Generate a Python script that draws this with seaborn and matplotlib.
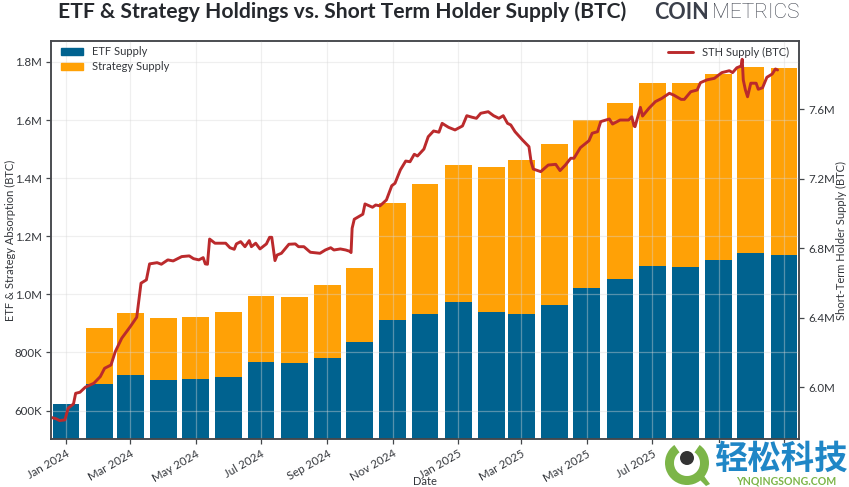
import matplotlib
matplotlib.use("Agg")
import matplotlib.pyplot as plt
import matplotlib.dates as mdates
from matplotlib.lines import Line2D
from matplotlib.patches import Patch, Rectangle, Wedge, Circle, Polygon
from matplotlib.ticker import FuncFormatter, MultipleLocator
from matplotlib.transforms import IdentityTransform
import numpy as np
import pandas as pd
import seaborn as sns

# Month-start holdings, BTC thousands
months = pd.date_range("2024-01-01", "2025-11-01", freq="MS")
etf_supply = [622, 692, 722, 706, 709, 715, 768, 764, 782, 837, 913, 933,
              973, 940, 933, 964, 1023, 1052, 1098, 1095, 1118, 1142, 1137]
strategy_supply = [0, 193, 212, 213, 214, 225, 226, 227, 251, 253, 403, 446,
                   473, 500, 528, 554, 578, 608, 629, 632, 642, 642, 642]

# Short-term holder supply: days since 2024-01-01, BTC millions
sth_days = [-13, -9, -6, -1, 2, 7, 9, 13, 18, 26, 32, 36, 42, 46, 52, 60, 66, 68, 70, 75,
            78, 85, 89, 95, 100, 108, 115, 119, 124, 128, 130, 132, 134, 139, 144, 149,
            153, 157, 159, 163, 167, 171, 173, 177, 181, 187, 190, 192, 195, 197, 201,
            208, 214, 217, 222, 228, 237, 242, 247, 250, 256, 261, 265, 266, 267, 269,
            277, 279, 286, 289, 293, 299, 304, 307, 312, 317, 321, 325, 328, 334, 338,
            343, 348, 351, 357, 363, 370, 374, 379, 383, 387, 394, 399, 404, 408, 412,
            415, 419, 426, 432, 434, 436, 443, 450, 457, 461, 466, 471, 474, 480, 488,
            491, 496, 499, 507, 510, 517, 525, 528, 530, 531, 536, 538, 544, 550, 556,
            563, 567, 574, 577, 583, 589, 592, 598, 605, 612, 619, 622, 626, 630, 631,
            632, 634, 636, 639, 644, 646, 650, 654, 659, 662, 664]
sth_supply = [5.825, 5.818, 5.808, 5.812, 5.879, 5.904, 5.965, 5.971, 6.000, 6.023, 6.061,
              6.109, 6.128, 6.205, 6.282, 6.349, 6.403, 6.502, 6.599, 6.618,
              6.710, 6.717, 6.708, 6.733, 6.727, 6.752, 6.756, 6.740, 6.733, 6.746, 6.710,
              6.708, 6.853, 6.829, 6.829, 6.829, 6.803, 6.794, 6.825, 6.838, 6.809, 6.844,
              6.809, 6.829, 6.796, 6.825, 6.863, 6.863, 6.729, 6.761, 6.771, 6.823, 6.825,
              6.809, 6.809, 6.777, 6.771, 6.790, 6.803, 6.790, 6.796, 6.790, 6.782, 6.775,
              6.915, 6.967, 6.996, 7.055, 7.036, 7.049, 7.044, 7.078, 7.160, 7.174, 7.251,
              7.302, 7.298, 7.341, 7.331, 7.371, 7.442, 7.475, 7.468, 7.519, 7.496, 7.481,
              7.504, 7.563, 7.554, 7.548, 7.577, 7.586, 7.563, 7.548, 7.563, 7.519, 7.510,
              7.471, 7.423, 7.385, 7.298, 7.256, 7.241, 7.279, 7.283, 7.247, 7.279, 7.318,
              7.318, 7.379, 7.419, 7.462, 7.471, 7.529, 7.544, 7.515, 7.538, 7.538, 7.557,
              7.504, 7.500, 7.611, 7.561, 7.606, 7.644, 7.663, 7.692, 7.682, 7.657, 7.657,
              7.701, 7.711, 7.753, 7.769, 7.778, 7.811, 7.822, 7.811, 7.839, 7.849, 7.888,
              7.769, 7.711, 7.672, 7.750, 7.750, 7.715, 7.724, 7.784, 7.803, 7.832, 7.826]

title = "ETF & Strategy Holdings vs. Short Term Holder Supply (BTC)"
ETF_COLOR = "#00628f"
STRATEGY_COLOR = "#ffa106"
STH_COLOR = "#bb2a2c"
TEXT_COLOR = "#33363b"
SPINE_COLOR = "#45484c"

sns.set_theme(style="white")
plt.rcParams["font.family"] = ["Lato", "DejaVu Sans"]

W, H = 849, 487
fig = plt.figure(figsize=(W / 100, H / 100), dpi=100)
ax = fig.add_axes([51 / W, 1 - 439 / H, (799 - 51) / W, (439 - 41) / H])

# Stacked bars: the total first, the ETF share painted over its lower part
x_num = mdates.date2num(months)
etf = np.array(etf_supply) * 1e3
total = etf + np.array(strategy_supply) * 1e3
sns.barplot(x=x_num, y=total, native_scale=True, width=0.893, color=STRATEGY_COLOR,
            saturation=1, linewidth=0, ax=ax)
sns.barplot(x=x_num, y=etf, native_scale=True, width=0.893, color=ETF_COLOR,
            saturation=1, linewidth=0, ax=ax)

ax.set_xlim(mdates.date2num(pd.Timestamp("2023-12-18")),
            mdates.date2num(pd.Timestamp("2025-11-15")))
ax.set_ylim(502e3, 1.872e6)
ax.yaxis.set_major_locator(MultipleLocator(200e3))
ax.yaxis.set_major_formatter(FuncFormatter(
    lambda v, _: f"{v / 1e6:.1f}M" if v >= 1e6 else f"{v / 1e3:.0f}K"))
ax.xaxis.set_major_locator(mdates.MonthLocator(bymonth=range(1, 13, 2)))
ax.xaxis.set_major_formatter(mdates.DateFormatter("%b %Y"))
ax.grid(True, color="#d8d8d8", alpha=0.4, linewidth=0.9)
ax.set_axisbelow(False)
ax.tick_params(axis="both", length=3.5, width=0.9, color=SPINE_COLOR, labelsize=8.3,
               labelcolor=TEXT_COLOR, pad=3, bottom=True, left=True)
plt.setp(ax.get_xticklabels(), rotation=30, ha="right", rotation_mode="anchor")
ax.set_xlabel("Date", fontsize=8, color=TEXT_COLOR, labelpad=0)
ax.xaxis.set_label_coords(0.5, -0.093)
ax.set_ylabel("ETF & Strategy Absorption (BTC)", fontsize=8, color=TEXT_COLOR)
ax.yaxis.set_label_coords(-0.047, 0.5)

# Short-term holder supply on its own scale
ax2 = ax.twinx()
sth_dates = mdates.date2num(pd.Timestamp("2024-01-01") + pd.to_timedelta(sth_days, unit="D"))
sns.lineplot(x=sth_dates, y=np.array(sth_supply) * 1e6, color=STH_COLOR, linewidth=2.1,
             ax=ax2, legend=False, errorbar=None, sort=False)
ax2.set_xlim(ax.get_xlim())
ax2.set_ylim(5.702e6, 7.993e6)
ax2.yaxis.set_major_locator(MultipleLocator(400e3))
ax2.yaxis.set_major_formatter(FuncFormatter(lambda v, _: f"{v / 1e6:.1f}M"))
ax2.tick_params(axis="y", length=3.5, width=0.9, color=SPINE_COLOR, labelsize=8.3,
                labelcolor=TEXT_COLOR, pad=3, right=True)
ax2.set_ylabel("Short-Term Holder Supply (BTC)", fontsize=8, color=TEXT_COLOR)
ax2.yaxis.set_label_coords(1.05, 0.5)
ax2.grid(False)

for a in (ax, ax2):
    for side, spine in a.spines.items():
        spine.set_color(SPINE_COLOR)
        spine.set_linewidth(1.1)

ax.legend(handles=[Patch(color=ETF_COLOR, label="ETF Supply"),
                   Patch(color=STRATEGY_COLOR, label="Strategy Supply")],
          loc="upper left", bbox_to_anchor=(0.001, 1.01), frameon=False, fontsize=8,
          labelcolor=TEXT_COLOR, borderaxespad=0.55, borderpad=0.3, handlelength=2.0,
          handleheight=0.7, handletextpad=0.75, labelspacing=0.36)
ax2.legend(handles=[Line2D([], [], color=STH_COLOR, linewidth=2.1, label="STH Supply (BTC)")],
           loc="upper right", bbox_to_anchor=(0.999, 1.01), frameon=False, fontsize=8,
           labelcolor=TEXT_COLOR, borderaxespad=0.55, borderpad=0.3, handlelength=2.2,
           handletextpad=0.8)

# Headline and wordmark
fig.text(58 / W, 1 - 11.5 / H, title, fontsize=15.2, fontweight="bold", color="#25282d",
         ha="left", va="center")
fig.text(654 / W, 1 - 12.5 / H, "COIN", fontsize=15.5, fontweight="bold", color="#3a3f4a",
         ha="left", va="center")
fig.text(799 / W, 1 - 12.5 / H, "METRICS", fontsize=15, fontweight="light", color="#3a3f4a",
         family=["Roboto", "DejaVu Sans"], ha="right", va="center")

# Site badge in the lower right corner
px = IdentityTransform()
fig.add_artist(Rectangle((662, 0), 187, H - 443, transform=px, facecolor="white",
                         edgecolor="none", zorder=5))
fig.add_artist(Wedge((687, H - 463), 22, 125, 415, width=9, transform=px,
                     facecolor="#7cb548", edgecolor="none", zorder=6))
fig.add_artist(Polygon([(698, H - 478), (704, H - 476), (710, H - 484), (706, H - 486)],
                       transform=px, facecolor="#7cb548", edgecolor="none", zorder=6))
fig.add_artist(Circle((687, H - 458), 7, transform=px, facecolor="#333333",
                      edgecolor="none", zorder=6))
fig.text(781 / W, 1 - 459 / H, "轻松科技", fontsize=24, fontweight="bold", color="#1f86c6",
         family=["Noto Sans CJK SC", "DejaVu Sans"], ha="center", va="center", zorder=6)
fig.text(786.5 / W, 1 - 481 / H, "YNQINGSONG.COM", fontsize=7.6, fontweight="bold",
         color="#7cb548", ha="center", va="center", zorder=6)

fig.savefig("out.png", dpi=100, facecolor="white")
